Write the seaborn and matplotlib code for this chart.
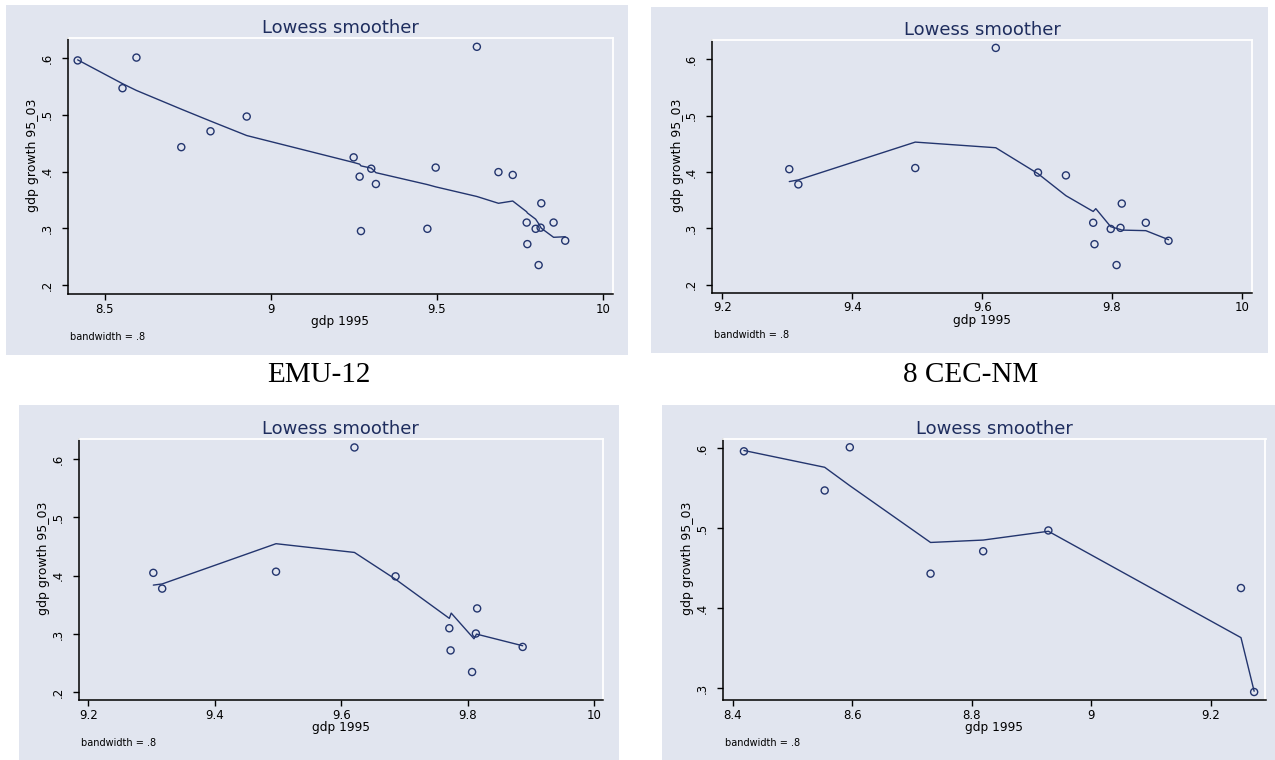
import matplotlib
matplotlib.use("Agg")
import matplotlib.pyplot as plt
import seaborn as sns
from matplotlib.patches import Rectangle

W, H = 1275, 760

# EMU-12 panel (all countries)
all_gdp95 = [8.419, 8.554, 8.596, 8.731, 8.819, 8.928, 9.250, 9.268, 9.272, 9.303, 9.317, 9.472,
             9.497, 9.621, 9.686, 9.729, 9.771, 9.773, 9.798, 9.807, 9.813, 9.815, 9.852, 9.887]
all_growth = [0.596, 0.547, 0.601, 0.443, 0.471, 0.497, 0.425, 0.391, 0.295, 0.405, 0.378, 0.299,
              0.407, 0.620, 0.399, 0.394, 0.310, 0.272, 0.299, 0.235, 0.301, 0.344, 0.310, 0.278]
all_fit_x = [8.419, 8.554, 8.596, 8.731, 8.819, 8.928, 9.250, 9.268, 9.272, 9.303, 9.317, 9.472,
             9.497, 9.621, 9.686, 9.729, 9.771, 9.773, 9.798, 9.807, 9.813, 9.815, 9.852, 9.887]
all_fit_y = [0.597, 0.555, 0.543, 0.510, 0.489, 0.4635, 0.416, 0.413, 0.410, 0.406, 0.398, 0.377,
             0.373, 0.356, 0.344, 0.348, 0.329, 0.327, 0.316, 0.308, 0.302, 0.300, 0.284, 0.285]

# 8 CEC-NM panel
cec_gdp95 = [9.303, 9.317, 9.497, 9.621, 9.686, 9.729, 9.771, 9.773, 9.798, 9.807, 9.813, 9.815, 9.852, 9.887]
cec_growth = [0.405, 0.378, 0.407, 0.620, 0.399, 0.394, 0.310, 0.272, 0.299, 0.235, 0.301, 0.344, 0.310, 0.278]
cec_fit_x = [9.303, 9.317, 9.497, 9.621, 9.686, 9.729, 9.771, 9.775, 9.798, 9.807, 9.813, 9.815, 9.852, 9.887]
cec_fit_y = [0.383, 0.386, 0.453, 0.443, 0.397, 0.358, 0.330, 0.335, 0.303, 0.300, 0.298, 0.297, 0.296, 0.280]

# bottom-left panel
bl_gdp95 = [9.303, 9.317, 9.497, 9.621, 9.686, 9.771, 9.773, 9.807, 9.813, 9.815, 9.887]
bl_growth = [0.405, 0.378, 0.407, 0.620, 0.399, 0.310, 0.272, 0.235, 0.301, 0.344, 0.278]
bl_fit_x = [9.303, 9.317, 9.497, 9.621, 9.686, 9.771, 9.774, 9.810, 9.814, 9.887]
bl_fit_y = [0.384, 0.386, 0.455, 0.440, 0.394, 0.327, 0.336, 0.292, 0.300, 0.280]

# bottom-right panel
br_gdp95 = [8.419, 8.554, 8.596, 8.731, 8.819, 8.928, 9.250, 9.272]
br_growth = [0.596, 0.547, 0.601, 0.443, 0.471, 0.497, 0.425, 0.295]
br_fit_y = [0.597, 0.576, 0.553, 0.482, 0.485, 0.496, 0.363, 0.296]

x_ticks_wide = [8.5, 9, 9.5, 10]
x_labels_wide = ["8.5", "9", "9.5", "10"]
x_ticks_hi = [9.2, 9.4, 9.6, 9.8, 10]
x_labels_hi = ["9.2", "9.4", "9.6", "9.8", "10"]
x_ticks_lo = [8.4, 8.6, 8.8, 9, 9.2]
x_labels_lo = ["8.4", "8.6", "8.8", "9", "9.2"]
y_ticks = [0.2, 0.3, 0.4, 0.5, 0.6]
y_labels = [".2", ".3", ".4", ".5", ".6"]

BG = "#E1E5EF"
NAVY = "#23356E"
TITLE_COL = "#1E2D5E"

sns.set_style("ticks")
plt.rcParams["font.family"] = ["DejaVu Sans"]

fig = plt.figure(figsize=(W / 100, H / 100), dpi=100)


def px(x, y):
    return x / W, 1 - y / H


def draw_panel(panel_box, plot_box, gdp, growth, fit_x, fit_y, xlim, ylim, xt, xl, yt, yl):
    a0, b0, a1, b1 = panel_box
    fig.add_artist(Rectangle(px(a0, b1), (a1 - a0) / W, (b1 - b0) / H, transform=fig.transFigure,
                             facecolor=BG, edgecolor="none", zorder=-1))
    x0, y0, x1, y1 = plot_box
    ax = fig.add_axes([x0 / W, 1 - y1 / H, (x1 - x0) / W, (y1 - y0) / H])
    ax.set_facecolor(BG)

    sns.lineplot(x=fit_x, y=fit_y, ax=ax, color=NAVY, linewidth=1.0, sort=False, estimator=None)
    sns.scatterplot(x=gdp, y=growth, ax=ax, marker="o", s=26, facecolor="none",
                    edgecolor=NAVY, linewidth=1.0, zorder=3)

    ax.set_xlim(*xlim)
    ax.set_ylim(*ylim)
    ax.set_xticks(xt)
    ax.set_xticklabels(xl)
    ax.set_yticks(yt)
    ax.set_yticklabels(yl, rotation=90, va="center")
    ax.tick_params(axis="x", length=4, width=1, pad=2.3, labelsize=8.5, colors="black")
    ax.tick_params(axis="y", length=4, width=1, pad=6, labelsize=8.5, colors="black")
    ax.set_xlabel("")
    ax.set_ylabel("")
    for side in ["left", "bottom"]:
        ax.spines[side].set_color("black")
        ax.spines[side].set_linewidth(1.1)
    for side in ["top", "right"]:
        ax.spines[side].set_visible(True)
        ax.spines[side].set_color("white")
        ax.spines[side].set_linewidth(1.3)

    cx = (x0 + x1) / 2
    fig.text(*px(cx, y0 - 5), "Lowess smoother", ha="center", va="baseline",
             fontsize=13, color=TITLE_COL)
    fig.text(*px(cx, y1 + 31), "gdp 1995", ha="center", va="baseline", fontsize=8.7, color="black")
    fig.text(*px(x0 - 35, (y0 + y1) / 2 - 11), "gdp growth 95_03", rotation=90,
             ha="center", va="center", fontsize=9, color="black")
    fig.text(*px(x0 + 2.5, y1 + 45.5), "bandwidth = .8", ha="left", va="baseline",
             fontsize=7, color="black")
    return ax


draw_panel((5.7, 5, 627.7, 354.7), (67.7, 38.3, 612.7, 294),
           all_gdp95, all_growth, all_fit_x, all_fit_y,
           (8.389, 10.030), (0.184, 0.635), x_ticks_wide, x_labels_wide, y_ticks, y_labels)
draw_panel((651, 7.3, 1267.7, 352.7), (712, 40, 1252.3, 292.7),
           cec_gdp95, cec_growth, cec_fit_x, cec_fit_y,
           (9.184, 10.016), (0.186, 0.634), x_ticks_hi, x_labels_hi, y_ticks, y_labels)
draw_panel((19.3, 405, 619, 760), (78.7, 439.3, 603, 700),
           bl_gdp95, bl_growth, bl_fit_x, bl_fit_y,
           (9.185, 10.014), (0.187, 0.634), x_ticks_hi, x_labels_hi, y_ticks, y_labels)
draw_panel((662, 405, 1280, 760), (723, 439.3, 1265.5, 700),
           br_gdp95, br_growth, br_gdp95, br_fit_y,
           (8.384, 9.291), (0.285, 0.611), x_ticks_lo, x_labels_lo, y_ticks[1:], y_labels[1:])

# captions under the top row
fig.text(*px(318.4, 381.5), "EMU-12", ha="center", va="baseline", fontsize=21,
         family=["Liberation Serif", "DejaVu Serif"], color="black")
fig.text(*px(971, 381.5), "8 CEC-NM", ha="center", va="baseline", fontsize=21,
         family=["Liberation Serif", "DejaVu Serif"], color="black")

fig.savefig("out.png", dpi=100, facecolor="white")
